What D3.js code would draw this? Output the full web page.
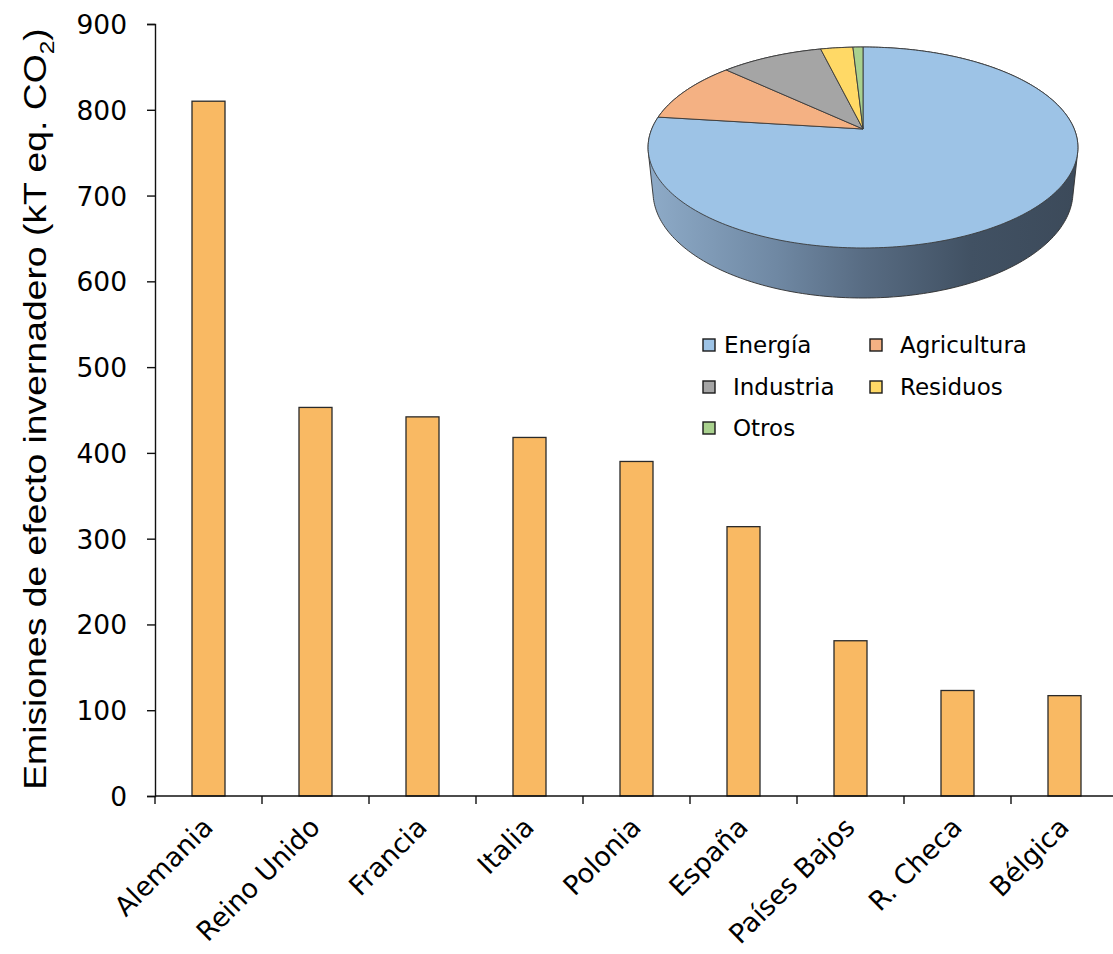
<!DOCTYPE html>
<html>
<head>
<meta charset="utf-8">
<script src="https://cdn.jsdelivr.net/npm/d3@7"></script>
<style>
  html, body { margin: 0; padding: 0; background: #fff; }
  svg { display: block; }
</style>
</head>
<body>
<svg id="chart" width="1113" height="954"></svg>
<script>
// Emisiones por país (kT eq. CO2)
const countries = ["Alemania", "Reino Unido", "Francia", "Italia", "Polonia", "España", "Países Bajos", "R. Checa", "Bélgica"];
const emissions = [810, 453, 442, 418, 390, 314, 181, 123, 117];
const yTicks = [0, 100, 200, 300, 400, 500, 600, 700, 800, 900];

// Reparto por sector (%)
const sectors = ["Energía", "Agricultura", "Industria", "Residuos", "Otros"];
const sectorShare = [77, 10, 9.2, 2.9, 0.9];
const sectorColors = ["#9dc3e6", "#f4b183", "#a5a5a5", "#ffd966", "#a9d18e"];

const svg = d3.select("#chart");

// ---- Bar chart ----
const x = d3.scaleBand().domain(countries).range([155, 1118]).padding(0);
const y = d3.scaleLinear().domain([0, 900]).range([796, 24]);
const barW = 33;

svg.append("g")
  .selectAll("rect")
  .data(emissions)
  .join("rect")
  .attr("x", (d, i) => x(countries[i]) + (x.bandwidth() - barW) / 2)
  .attr("y", d => y(d))
  .attr("width", barW)
  .attr("height", d => y(0) - y(d))
  .attr("fill", "#f9b963")
  .attr("stroke", "#2a2a2a")
  .attr("stroke-width", 1.3);

// Y axis
const yAxis = svg.append("g")
  .attr("transform", "translate(155,0)")
  .call(d3.axisLeft(y).tickValues(yTicks).tickSize(8).tickPadding(20).tickFormat(d3.format("d")));
yAxis.select(".domain").attr("stroke", "#111").attr("stroke-width", 1.4);
yAxis.selectAll(".tick line").attr("stroke", "#111").attr("stroke-width", 1.4);
yAxis.selectAll(".tick text")
  .attr("font-family", "DejaVu Sans, Verdana, sans-serif")
  .attr("font-size", 26.5)
  .attr("fill", "#000")
  .attr("dy", "0.36em");

// X axis: line with ticks at category boundaries
const xAxis = svg.append("g");
xAxis.append("line")
  .attr("x1", x.range()[0]).attr("x2", x.range()[1])
  .attr("y1", y(0)).attr("y2", y(0))
  .attr("stroke", "#111").attr("stroke-width", 1.4);
const boundaries = countries.map(c => x(c)).concat([x.range()[1]]);
xAxis.selectAll("line.tk")
  .data(boundaries)
  .join("line")
  .attr("class", "tk")
  .attr("x1", d => d).attr("x2", d => d)
  .attr("y1", y(0)).attr("y2", y(0) + 8)
  .attr("stroke", "#111").attr("stroke-width", 1.4);

xAxis.selectAll("text")
  .data(countries)
  .join("text")
  .attr("transform", d => `translate(${x(d) + x.bandwidth() / 2 + 6},${829}) rotate(-45)`)
  .attr("text-anchor", "end")
  .attr("font-family", "DejaVu Sans, Verdana, sans-serif")
  .attr("font-size", 26.8)
  .attr("fill", "#000")
  .text(d => d);

// Y axis title
const title = svg.append("text")
  .attr("font-family", "Liberation Sans, Arial, sans-serif")
  .attr("font-size", 32)
  .attr("fill", "#000")
  .attr("text-anchor", "middle");
title.append("tspan").text("Emisiones de efecto invernadero (kT eq. CO");
title.append("tspan").attr("font-size", 21).attr("dy", 8).text("2");
title.append("tspan").attr("dy", -8).text(")");
const titleLen = title.node().getComputedTextLength();
const sx = 762 / titleLen;
title.attr("transform", `translate(46,409) rotate(-90) scale(${sx},1)`);

// ---- 3D pie (perspective projection of a tilted disc) ----
const pc = { x: 863, y: 129 };        // projected centre of the top face
const focal = 1018.8, dist = 4.823;
const sinA = 0.4595, cosA = 0.8882;   // viewing elevation
const thick = 0.238;

function proj(t, h) {
  const u = Math.sin(t), w = Math.cos(t);
  const yc = w * sinA + h * cosA;
  const zc = dist + w * cosA - h * sinA;
  return [pc.x + focal * u / zc, pc.y - focal * yc / zc];
}

const defs = svg.append("defs");
const grad = defs.append("linearGradient")
  .attr("id", "sideGrad")
  .attr("gradientUnits", "userSpaceOnUse")
  .attr("x1", 648).attr("x2", 1078).attr("y1", 0).attr("y2", 0);
[[0, "#8eabc8"], [0.3, "#6f88a3"], [0.5, "#586c83"], [0.75, "#415163"], [1, "#3c4a5a"]]
  .forEach(([o, c]) => grad.append("stop").attr("offset", o).attr("stop-color", c));

const pieG = svg.append("g");
const ring = d3.range(0, 361, 1).map(a => a * Math.PI / 180);
const sidePts = ring.map(t => proj(t, 0)).concat(ring.map(t => proj(t, -thick)));
const hull = d3.polygonHull(sidePts);
pieG.append("path")
  .attr("d", "M" + hull.map(p => p.join(",")).join("L") + "Z")
  .attr("fill", "url(#sideGrad)")
  .attr("stroke", "#2e2e2e")
  .attr("stroke-width", 0.9);

const arcs = d3.pie().sort(null).value(d => d)(sectorShare);
function slicePath(a0, a1) {
  const n = Math.max(2, Math.ceil((a1 - a0) / (Math.PI / 180)));
  const pts = d3.range(n + 1).map(i => proj(a0 + (a1 - a0) * i / n, 0));
  return `M${pc.x},${pc.y}L` + pts.map(p => p.join(",")).join("L") + "Z";
}
pieG.selectAll("path.slice")
  .data(arcs)
  .join("path")
  .attr("class", "slice")
  .attr("d", d => slicePath(d.startAngle, d.endAngle))
  .attr("fill", (d, i) => sectorColors[i])
  .attr("stroke", "#3a3a3a")
  .attr("stroke-width", 0.9)
  .attr("stroke-linejoin", "round");

// Legend
const legCols = [703, 870], legRows = [339, 381, 422];
const leg = svg.append("g");
sectors.forEach((s, i) => {
  const lx = legCols[i % 2], ly = legRows[Math.floor(i / 2)];
  leg.append("rect")
    .attr("x", lx).attr("y", ly).attr("width", 12).attr("height", 12)
    .attr("fill", sectorColors[i])
    .attr("stroke", "#1a1a1a").attr("stroke-width", 1.4);
  const tx = lx + (i === 0 ? 21 : 30);
  leg.append("text")
    .attr("transform", `translate(${tx},${ly + 14})`)
    .attr("font-family", "DejaVu Sans, Verdana, sans-serif")
    .attr("font-size", 23)
    .attr("fill", "#000")
    .text(s);
});
</script>
</body>
</html>
